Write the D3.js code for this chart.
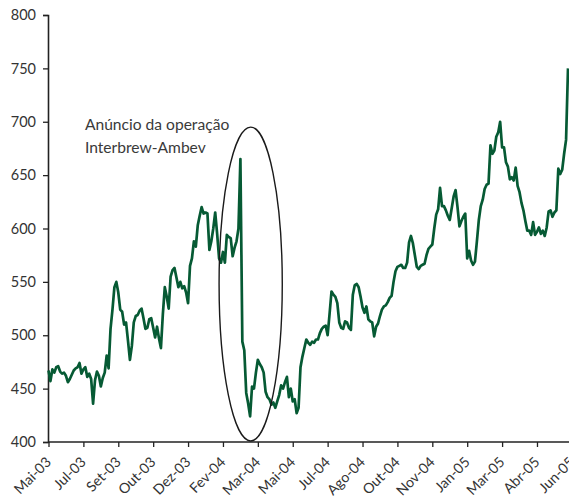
<!DOCTYPE html>
<html>
<head>
<meta charset="utf-8">
<script src="https://cdn.jsdelivr.net/npm/d3@7"></script>
<style>
  html, body { margin: 0; padding: 0; background: #fff; }
  svg { display: block; font-family: Lato, "Open Sans", sans-serif; }
</style>
</head>
<body>
<svg id="chart" width="569" height="504"></svg>
<script>
// Daily closing series, one value per sampled trading day (May 2003 – Jun 2005)
const prices = [
  467,457,468,465,470,471,466,464,465,462,
  456,459,463,467,469,470,474,464,468,470,
  461,464,459,436,458,466,462,452,460,465,
  481,469,506,524,545,550,540,524,522,510,
  512,495,477,490,512,518,519,523,525,516,
  506,507,515,516,507,498,508,497,488,520,
  545,536,525,555,561,563,554,545,550,544,
  546,540,530,565,572,588,583,603,612,620,
  614,615,614,580,588,600,615,595,572,568,
  578,568,594,592,591,574,582,588,600,665,
  494,486,446,436,424,452,450,465,477,473,
  470,465,447,442,440,435,437,432,438,444,
  453,450,456,461,442,450,438,440,427,432,
  470,480,488,496,493,491,494,493,496,496,
  502,506,508,509,500,520,541,538,536,530,
  512,507,506,513,512,507,505,538,547,548,
  545,536,526,521,527,515,513,512,499,508,
  511,518,524,527,528,531,535,537,550,560,
  564,565,566,563,563,568,587,593,586,575,
  564,562,565,566,567,575,581,583,585,600,
  613,618,638,621,621,617,612,608,619,630,
  636,620,602,607,611,614,572,579,570,566,
  569,588,608,621,627,637,641,642,678,670,
  673,686,690,700,676,676,662,658,646,648,
  645,657,640,634,624,617,607,598,598,594,
  606,594,597,601,595,598,593,601,616,617,
  611,615,617,656,651,655,670,683,750
];

// Category labels shown every 18 sampled days
const tickLabels = ["Mai-03","Jul-03","Set-03","Out-03","Dez-03","Fev-04","Mar-04","Mai-04",
                    "Jul-04","Ago-04","Out-04","Nov-04","Jan-05","Mar-05","Abr-05","Jun-05"];
const tickStep = 18;

const yTicks = [400, 450, 500, 550, 600, 650, 700, 750, 800];

// Highlighted window: the deal announcement
const noteLines = ["Anúncio da operação", "Interbrew-Ambev"];
const noteDays = [88, 120.6];      // day span enclosed by the ellipse
const noteRange = [401, 695];      // value span enclosed by the ellipse

const svg = d3.select("#chart");

const x = d3.scaleLinear().domain([0, prices.length - 1]).range([48.5, 568]);
const y = d3.scaleLinear().domain([400, 800]).range([442, 15]);

// Y axis
const yAxis = svg.append("g")
  .attr("transform", "translate(48,0)")
  .call(d3.axisLeft(y).tickValues(yTicks).tickSize(5).tickPadding(7).tickFormat(d3.format("d")));
yAxis.select(".domain").attr("stroke", "#222").attr("stroke-width", 1.6);
yAxis.selectAll(".tick line").attr("stroke", "#222").attr("stroke-width", 1.3);
yAxis.selectAll(".tick text")
  .attr("font-family", "Lato, sans-serif").attr("font-size", 14.5).attr("fill", "#333");

// X axis
const xTickVals = tickLabels.map((_, k) => k * tickStep);
const xAxis = svg.append("g")
  .attr("transform", "translate(0,442)")
  .call(d3.axisBottom(x).tickValues(xTickVals).tickSize(5)
    .tickFormat((d, k) => tickLabels[k]));
xAxis.select(".domain").attr("d", "M48,0H569").attr("stroke", "#222").attr("stroke-width", 1.6);
xAxis.selectAll(".tick line").attr("stroke", "#222").attr("stroke-width", 1.3);
xAxis.selectAll(".tick text")
  .attr("font-family", "Lato, sans-serif").attr("font-size", 14.2).attr("fill", "#333")
  .attr("text-anchor", "end")
  .attr("dy", null).attr("y", 0)
  .attr("transform", "translate(3,21) rotate(-45)");

// Price line
const line = d3.line().x((d, i) => x(i)).y(d => y(d));
svg.append("path")
  .datum(prices)
  .attr("fill", "none")
  .attr("stroke", "#065a34")
  .attr("stroke-width", 2.7)
  .attr("stroke-linejoin", "round")
  .attr("d", line);

// Announcement ellipse
const ex0 = x(noteDays[0]), ex1 = x(noteDays[1]);
const ey0 = y(noteRange[1]), ey1 = y(noteRange[0]);
svg.append("ellipse")
  .attr("cx", (ex0 + ex1) / 2).attr("cy", (ey0 + ey1) / 2)
  .attr("rx", (ex1 - ex0) / 2).attr("ry", (ey1 - ey0) / 2)
  .attr("fill", "none").attr("stroke", "#1a1a1a").attr("stroke-width", 1.4);

// Announcement text
const note = svg.append("text")
  .attr("font-family", "Lato, sans-serif").attr("font-size", 15.6).attr("fill", "#3a3a3a");
note.selectAll("tspan").data(noteLines).join("tspan")
  .attr("x", x(18.8))
  .attr("y", (d, i) => y(692.5) + i * 23.5)
  .text(d => d);
</script>
</body>
</html>
